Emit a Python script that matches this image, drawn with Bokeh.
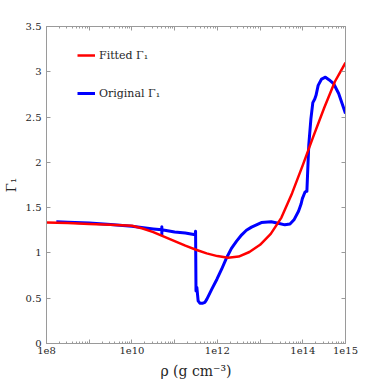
import numpy as np
from bokeh.plotting import figure
from bokeh.models import (Range1d, LogAxis, LinearAxis, FixedTicker,
                          CustomJSTickFormatter, Legend, LegendItem)
from bokeh.embed import file_html
from bokeh.resources import INLINE

# ---- data (log10 of density, Gamma_1) ----
fitted_log_rho = [8.0, 8.5, 9.0, 9.5, 10.0, 10.25, 10.5, 10.75, 11.0, 11.25, 11.5,
                  11.75, 12.0, 12.25, 12.5, 12.75, 13.0, 13.25, 13.5, 13.75, 14.0,
                  14.25, 14.5, 14.75, 15.0]
fitted_gamma = [1.336, 1.33, 1.32, 1.31, 1.30, 1.27, 1.23, 1.18, 1.13, 1.08, 1.035,
                0.995, 0.965, 0.948, 0.96, 1.01, 1.09, 1.21, 1.39, 1.66, 1.97,
                2.29, 2.60, 2.89, 3.10]

original_log_rho = [8.23, 8.5, 9.0, 9.5, 10.0, 10.5, 10.70, 10.70, 10.70, 10.70,
                    11.0, 11.25, 11.48, 11.49, 11.50, 11.52, 11.55, 11.59, 11.66,
                    11.71, 11.755, 11.87, 11.99, 12.10, 12.22, 12.33, 12.45, 12.57,
                    12.68, 12.80, 13.03, 13.26, 13.45, 13.58, 13.70, 13.80, 13.90,
                    13.96, 13.99, 14.05, 14.08, 14.096, 14.14, 14.19,
                    14.235, 14.28, 14.31, 14.36, 14.44, 14.53, 14.62, 14.72, 14.84,
                    15.0]
original_gamma = [1.345, 1.34, 1.33, 1.315, 1.295, 1.265, 1.255, 1.29, 1.20, 1.255,
                  1.23, 1.22, 1.20, 1.24, 0.58, 0.62, 0.47, 0.445, 0.445,
                  0.455, 0.49, 0.60, 0.71, 0.82, 0.95, 1.05, 1.13, 1.20,
                  1.25, 1.285, 1.335, 1.345, 1.325, 1.31, 1.32, 1.37, 1.46,
                  1.54, 1.60, 1.67, 1.68, 1.68, 2.19, 2.48,
                  2.66, 2.70, 2.74, 2.85, 2.92, 2.94, 2.91, 2.87, 2.76,
                  2.54]

y_ticks = [0, 0.5, 1, 1.5, 2, 2.5, 3, 3.5]
x_decades = [8, 9, 10, 11, 12, 13, 14, 15]
x_labelled_decades = [8, 10, 12, 14, 15]

fitted_label = "Fitted Γ₁"
original_label = "Original Γ₁"
x_title = "ρ (g cm⁻³)"
y_title = "Γ₁"

# ---- figure ----
FONT = "DejaVu Serif"
AX = "#9a9a9a"
TXT = "#262626"

p = figure(width=374, height=384, x_axis_type="log",
           x_range=Range1d(1e8, 1e15), y_range=Range1d(0, 3.5),
           output_backend="svg", toolbar_location=None,
           min_border_left=43, min_border_top=26, min_border_right=29,
           min_border_bottom=41)
p.grid.visible = False
p.outline_line_color = AX
p.background_fill_color = "white"
p.border_fill_color = "white"

x_major = [10.0 ** e for e in x_decades]
x_minor = [m * 10.0 ** e for e in x_decades[:-1] for m in range(2, 10)]
xticker = FixedTicker(ticks=x_major, minor_ticks=x_minor)
yticker = FixedTicker(ticks=y_ticks, minor_ticks=[])

xfmt = CustomJSTickFormatter(args=dict(lab=x_labelled_decades), code="""
const e = Math.round(Math.log10(tick));
return lab.includes(e) ? '1e' + e : '';
""")
yfmt = CustomJSTickFormatter(code="return String(Math.round(tick*10)/10);")
blank = CustomJSTickFormatter(code="return '';")


def style(ax, labels=True):
    ax.axis_line_color = AX
    ax.major_tick_line_color = AX
    ax.minor_tick_line_color = AX
    ax.major_tick_in = 4
    ax.major_tick_out = 0
    ax.minor_tick_in = 2
    ax.minor_tick_out = 0
    ax.major_label_text_font = FONT
    ax.major_label_text_font_size = "10px" if labels else "0px"
    ax.major_label_text_color = TXT
    ax.axis_label_text_font = FONT
    ax.axis_label_text_font_style = "normal"
    ax.axis_label_text_color = TXT
    ax.axis_label_text_font_size = "14px"


xa = p.xaxis[0]
xa.ticker = xticker
xa.formatter = xfmt
xa.axis_label = x_title
style(xa)
xa.major_label_standoff = 3
xa.axis_label_standoff = 6

ya = p.yaxis[0]
ya.ticker = yticker
ya.formatter = yfmt
ya.axis_label = y_title
style(ya)
ya.axis_label_text_font_size = "13px"
ya.major_label_standoff = 5
ya.axis_label_standoff = 4

top = LogAxis(ticker=xticker, formatter=blank, major_label_standoff=0)
style(top, labels=False)
p.add_layout(top, "above")
right = LinearAxis(ticker=yticker, formatter=blank, major_label_standoff=0)
style(right, labels=False)
p.add_layout(right, "right")

x_orig = np.power(10.0, np.array(original_log_rho))
x_fit = np.power(10.0, np.array(fitted_log_rho))
r_orig = p.line(x_orig, original_gamma, line_color="#0000ff", line_width=3,
                line_join="round")
r_fit = p.line(x_fit, fitted_gamma, line_color="#ff0000", line_width=2.5,
               line_join="round")

legend = Legend(items=[LegendItem(label=fitted_label, renderers=[r_fit]),
                       LegendItem(label=original_label, renderers=[r_orig])],
                location=(31, 240), margin=0, padding=0, spacing=18,
                glyph_width=18, glyph_height=20, label_height=20,
                label_standoff=4, label_text_font=FONT,
                label_text_font_size="11px", label_text_color=TXT,
                border_line_alpha=0, background_fill_alpha=0)
p.add_layout(legend)

open("out.html", "w").write(file_html(p, INLINE))
